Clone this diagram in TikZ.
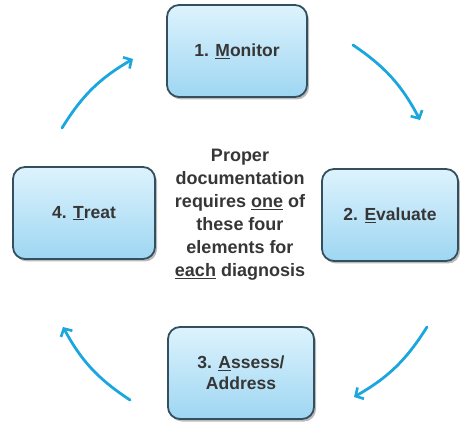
\documentclass[tikz,border=0pt]{standalone}
\usepackage{fontspec}
\setmainfont{Liberation Sans}
\usetikzlibrary{arrows.meta,shadows}
\definecolor{arrowblue}{HTML}{1BA6DE}
\definecolor{boxedge}{HTML}{34505F}
\definecolor{boxtop}{HTML}{DDF3FD}
\definecolor{boxbot}{HTML}{9ED6F2}
\definecolor{txt}{HTML}{363636}
\tikzset{
  stepbox/.style={draw=boxedge, line width=1.8pt, rounded corners=12pt,
    top color=boxtop, bottom color=boxbot, minimum width=140pt, minimum height=92pt,
    align=center, text=txt, font=\fontsize{17.5}{21}\selectfont\bfseries,
    drop shadow={shadow xshift=2pt, shadow yshift=-2.5pt, opacity=0.45, fill=black!60}},
  cyclearrow/.style={draw=arrowblue, line width=2.8pt, line cap=round,
    -{Straight Barb[length=6pt,width=13pt,line width=2.6pt]}, bend left=14},
  centertext/.style={align=center, text=txt, font=\fontsize{18}{23}\selectfont\bfseries}
}
\begin{document}
\begin{tikzpicture}[x=1pt,y=1pt]
\useasboundingbox (0,0) rectangle (460,428);
\node[stepbox] (monitor) at (237,377) {1. \underline{M}onitor};
\node[stepbox, minimum width=136pt] (evaluate) at (390,213) {2. \underline{E}valuate};
\node[stepbox, minimum width=142pt] (treat) at (84,215) {4. \underline{T}reat};
\node[stepbox, minimum width=146pt] (assess) at (241,55) {3. \underline{A}ssess/\\Address};
\node[centertext] (center) at (240,213) {Proper\\documentation\\requires \underline{one} of\\these four\\elements for\\\underline{each} diagnosis};
\coordinate (trs) at (353,383);
\coordinate (tre) at (420,308);
\coordinate (brs) at (427,101);
\coordinate (bre) at (354,31);
\coordinate (bls) at (130,28);
\coordinate (ble) at (63,101);
\coordinate (tls) at (62,300);
\coordinate (tle) at (133,369);
\draw[cyclearrow] (trs) to (tre);
\draw[cyclearrow] (brs) to (bre);
\draw[cyclearrow] (bls) to (ble);
\draw[cyclearrow] (tls) to (tle);
\end{tikzpicture}
\end{document}
